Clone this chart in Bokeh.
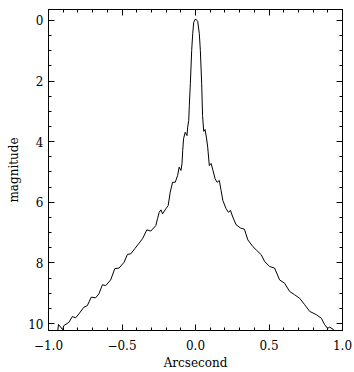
from bokeh.plotting import figure
from bokeh.models import Range1d, LinearAxis, FixedTicker, CustomJSTickFormatter
from bokeh.embed import file_html
from bokeh.resources import INLINE

# Radial profile (arcsec, magnitude)
x_left = [-0.939, -0.932, -0.904, -0.896, -0.861, -0.838, -0.816, -0.793, -0.759, -0.736,
          -0.709, -0.679, -0.657, -0.633, -0.611, -0.577, -0.549, -0.520, -0.486, -0.463,
          -0.440, -0.413, -0.384, -0.360, -0.331, -0.304, -0.270, -0.258, -0.247, -0.235,
          -0.224, -0.201, -0.186, -0.172, -0.156, -0.138, -0.122, -0.111, -0.099, -0.092,
          -0.087, -0.081, -0.070, -0.058, -0.053, -0.046, -0.042, -0.035, -0.026, -0.019,
          -0.012, 0.000]
mag_left = [10.33, 10.03, 10.20, 10.07, 9.96, 9.77, 9.81, 9.68, 9.46, 9.41,
            9.13, 9.15, 9.02, 8.72, 8.75, 8.56, 8.19, 8.17, 7.98, 7.72,
            7.70, 7.53, 7.35, 7.20, 6.91, 6.95, 6.77, 6.54, 6.33, 6.25,
            6.38, 6.21, 6.11, 5.67, 5.34, 5.34, 5.12, 4.84, 4.95, 4.73,
            4.29, 3.90, 3.69, 3.80, 3.52, 3.30, 2.81, 2.09, 0.99, 0.44,
            0.06, -0.05]
x_right = [0.015, 0.026, 0.033, 0.042, 0.048, 0.056, 0.065, 0.074, 0.083, 0.094,
           0.106, 0.119, 0.133, 0.147, 0.162, 0.174, 0.186, 0.208, 0.224, 0.238,
           0.254, 0.276, 0.306, 0.333, 0.356, 0.390, 0.413, 0.447, 0.470, 0.504,
           0.538, 0.572, 0.606, 0.640, 0.674, 0.709, 0.743, 0.777, 0.823, 0.857,
           0.879, 0.898, 0.913, 0.937, 0.952]
mag_right = [0.03, 0.44, 0.99, 2.09, 3.14, 3.66, 3.60, 3.85, 4.18, 4.79,
             4.72, 4.95, 5.22, 5.34, 5.28, 5.61, 5.94, 6.21, 6.33, 6.27,
             6.49, 6.74, 6.85, 6.89, 7.24, 7.46, 7.57, 7.73, 7.95, 8.12,
             8.17, 8.56, 8.67, 8.94, 9.05, 9.17, 9.38, 9.60, 9.71, 9.83,
             10.04, 10.16, 10.12, 10.19, 10.33]

x_major = [-1.0, -0.5, 0.0, 0.5, 1.0]
x_labels = ["\u22121.0", "\u22120.5", "0.0", "0.5", "1.0"]
x_minor = [round(-1.0 + 0.1 * i, 1) for i in range(21)]
y_major = [0, 2, 4, 6, 8, 10]
y_labels = ["0", "2", "4", "6", "8", "10"]
y_minor = [0.5 * i for i in range(21)]

xs = x_left + x_right
ys = mag_left + mag_right

FONT = "DejaVu Serif"

p = figure(width=354, height=372, output_backend="svg", toolbar_location=None,
           x_range=Range1d(-1.0, 1.0), y_range=Range1d(10.23, -0.36),
           x_axis_location=None, y_axis_location=None,
           min_border_left=48, min_border_right=12, min_border_top=9, min_border_bottom=42)
p.grid.visible = False
p.outline_line_color = "black"
p.outline_line_width = 1
p.background_fill_color = "white"
p.border_fill_color = "white"

p.line(xs, ys, line_color="black", line_width=1)

blank = CustomJSTickFormatter(code="return ''")

bottom = LinearAxis(ticker=FixedTicker(ticks=x_major, minor_ticks=x_minor),
                    axis_label="Arcsecond",
                    major_label_overrides=dict(zip(x_major, x_labels)))
left = LinearAxis(ticker=FixedTicker(ticks=y_major, minor_ticks=y_minor),
                  axis_label="magnitude",
                  major_label_overrides=dict(zip(y_major, y_labels)))
top = LinearAxis(ticker=FixedTicker(ticks=x_major, minor_ticks=x_minor), formatter=blank)
right = LinearAxis(ticker=FixedTicker(ticks=y_major, minor_ticks=y_minor), formatter=blank)

p.add_layout(bottom, "below")
p.add_layout(left, "left")
p.add_layout(top, "above")
p.add_layout(right, "right")

for ax in [bottom, left, top, right]:
    ax.axis_line_color = "black"
    ax.major_tick_line_color = "black"
    ax.minor_tick_line_color = "black"
    ax.major_tick_in = 6
    ax.major_tick_out = 0
    ax.minor_tick_in = 3
    ax.minor_tick_out = 0
    ax.major_label_text_font = FONT
    ax.major_label_text_font_size = "12px"
    ax.major_label_text_color = "black"
    ax.axis_label_text_font = FONT
    ax.axis_label_text_font_size = "12px"
    ax.axis_label_text_font_style = "normal"
    ax.axis_label_text_color = "black"

top.major_label_standoff = 0
right.major_label_standoff = 0
bottom.major_label_standoff = 9
bottom.axis_label_standoff = 3
left.major_label_standoff = 5
left.axis_label_standoff = 4

open("out.html", "w").write(file_html(p, INLINE))
